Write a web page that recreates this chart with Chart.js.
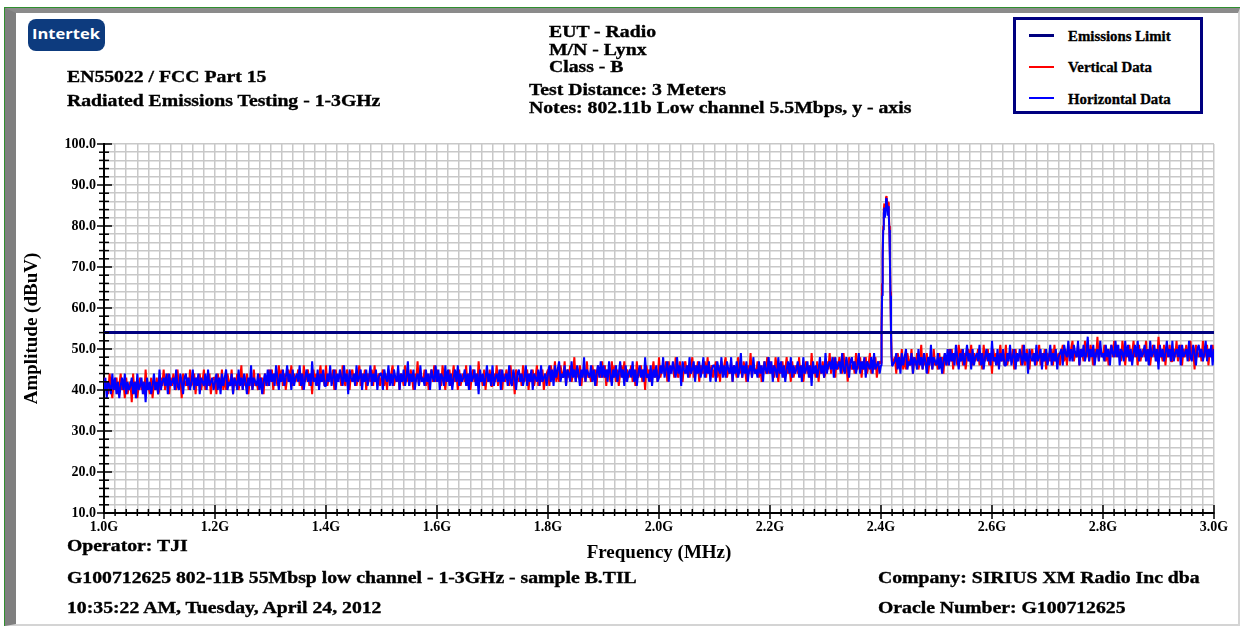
<!DOCTYPE html>
<html>
<head>
<meta charset="utf-8">
<script src="https://cdn.jsdelivr.net/npm/chart.js@4.4.1/dist/chart.umd.min.js"></script>
<style>
    html, body { margin: 0; padding: 0; background: #fff; }
    #page { position: relative; width: 1240px; height: 626px; overflow: hidden; background: #fff; }
    #frame { position: absolute; left: 4px; top: 7px; right: 0; bottom: 0; border-left: 1.5px solid #2f8f2f; border-top: 1.5px solid #2f8f2f; }
    #bevel { position: absolute; left: 0; top: 0; right: 0; bottom: 0; border-left: 11px solid #7f7f7f; border-top: 5px solid #8b8b8b; border-right: 2px solid #d4d4d4; border-bottom: 2px solid #d4d4d4; }
    #chartBox { position: absolute; left: 0; top: 0; width: 1240px; height: 626px; }
    .t { position: absolute; font-family: "Liberation Serif", "Times New Roman", serif; font-weight: bold; font-size: 17px; line-height: 17px; white-space: nowrap; color: #000; -webkit-text-stroke: 0.35px #000; transform: scaleX(1.16); transform-origin: 0 0; }
    #logo { position: absolute; left: 28px; top: 19px; width: 77px; height: 32px; border-radius: 8px; background: #0d3b7e; }
    #logo span { position: absolute; left: 4px; top: 8px; font-family: "Open Sans", "DejaVu Sans", sans-serif; font-weight: bold; font-size: 14px; line-height: 14px; color: #fff; transform: scaleX(1.18); transform-origin: 0 0; }
    #legend { position: absolute; left: 1013px; top: 17px; width: 184px; height: 91px; border: 3px solid #000080; background: #fff; }
    .swatch { position: absolute; left: 13px; width: 25px; }
    .lt { position: absolute; left: 52px; font-family: "Liberation Serif", "Times New Roman", serif; font-weight: bold; font-size: 14px; line-height: 14px; white-space: nowrap; -webkit-text-stroke: 0.3px #000; transform: scaleX(1.06); transform-origin: 0 0; }
</style>
</head>
<body>
<div id="page">
    <div id="frame"><div id="bevel"></div></div>
    <div id="chartBox"><canvas id="emissionsChart"></canvas></div>

    <div id="logo"><span>Intertek</span></div>
    <div class="t" style="left:67px; top:68px;">EN55022 / FCC Part 15</div>
    <div class="t" style="left:67px; top:92px;">Radiated Emissions Testing - 1-3GHz</div>

    <div class="t" style="left:549px; top:23px;">EUT - Radio</div>
    <div class="t" style="left:549px; top:41px;">M/N - Lynx</div>
    <div class="t" style="left:549px; top:58px;">Class - B</div>
    <div class="t" style="left:529px; top:81px;">Test Distance: 3 Meters</div>
    <div class="t" style="left:529px; top:99px;">Notes: 802.11b Low channel 5.5Mbps, y - axis</div>

    <div id="legend">
        <div class="swatch" style="top:14px; height:3px; background:#000080;"></div>
        <div class="lt" style="top:10px;">Emissions Limit</div>
        <div class="swatch" style="top:46px; height:1.5px; background:#ff0000;"></div>
        <div class="lt" style="top:41px;">Vertical Data</div>
        <div class="swatch" style="top:77px; height:1.5px; background:#0000ff;"></div>
        <div class="lt" style="top:73px;">Horizontal Data</div>
    </div>

    <div class="t" style="left:67px; top:537px;">Operator: TJI</div>
    <div class="t" style="left:67px; top:569px;">G100712625 802-11B 55Mbsp low channel - 1-3GHz - sample B.TIL</div>
    <div class="t" style="left:67px; top:599px;">10:35:22 AM, Tuesday, April 24, 2012</div>
    <div class="t" style="left:878px; top:569px;">Company: SIRIUS XM Radio Inc dba</div>
    <div class="t" style="left:878px; top:599px;">Oracle Number: G100712625</div>
</div>

<script>
// sweep layout (MHz): 2.5 MHz steps below and above the carrier, 1 MHz across it
const lowStartMHz = 1000;
const peakStartMHz = 2400;
const highStartMHz = 2425;
const sweepStepMHz = 2.5;
const peakStepMHz = 1;

// Emissions limit (dBuV)
const limitFreqs = [1000, 3000];
const limitLevels = [54, 54];

// Vertical data (dBuV), 1000-2397.5 MHz, one row per 100 MHz
const vertLow = [
    43,40,42,39,44,41,38,42,40,43,39,41,44,40,42,38,43,39,41,42,37,44,39,42,38,41,43,40,42,39,45,40,41,39,43,38,42,40,43,39,
    40,43,41,45,40,42,44,39,43,41,44,42,40,45,41,43,38,44,42,41,43,40,45,41,42,44,39,43,41,44,40,42,45,40,43,41,44,39,42,43,
    43,39,44,42,41,45,40,43,40,44,42,41,45,39,43,41,44,40,42,46,40,43,41,44,39,42,43,40,45,41,42,40,44,41,43,39,44,42,41,45,
    42,45,40,44,43,41,46,42,45,41,44,40,43,45,42,46,41,44,42,43,45,41,44,40,46,42,43,45,41,44,39,45,42,44,41,43,46,42,44,41,
    46,41,43,44,42,45,40,45,42,43,44,41,46,42,41,45,43,40,44,45,42,44,41,43,46,41,44,42,45,40,44,43,42,45,41,46,42,43,44,41,
    43,45,41,44,40,45,42,44,46,41,43,42,45,40,44,43,41,46,42,44,41,45,43,40,44,42,47,41,44,43,42,45,41,44,40,43,45,42,46,42,
    45,42,44,41,46,43,40,44,42,45,41,43,46,42,44,40,45,41,43,44,42,46,41,44,40,43,45,42,44,41,47,42,43,41,45,40,44,42,45,41,
    41,44,42,46,41,43,45,40,44,42,45,43,41,46,42,44,39,45,43,42,44,41,46,42,43,45,40,44,42,45,41,43,46,41,44,42,45,40,43,44,
    45,41,46,44,43,47,42,45,42,46,44,43,47,41,45,43,46,42,44,48,42,45,43,46,41,44,45,42,47,43,44,42,46,43,45,41,46,44,43,47,
    43,46,41,45,44,42,47,43,46,42,45,41,44,46,43,47,42,45,43,44,46,42,45,41,47,43,44,46,42,45,40,46,43,45,42,44,47,43,45,42,
    48,43,45,46,44,47,42,47,44,45,46,43,48,44,43,47,45,42,46,47,44,46,43,45,48,43,46,44,47,42,46,45,44,47,43,48,44,45,46,43,
    45,47,43,46,42,47,44,46,48,43,45,44,47,42,46,45,43,48,44,46,43,47,45,42,46,44,49,43,46,45,44,47,43,46,42,45,47,44,48,44,
    47,44,46,43,48,45,42,46,44,47,43,45,48,44,46,42,47,43,45,46,44,48,43,46,42,45,47,44,46,43,49,44,45,43,47,42,46,44,47,43,
    44,47,45,49,44,46,48,43,47,45,48,46,44,49,45,47,42,48,46,45,47,44,49,45,46,48,43,47,45,48,44,46,49,44,47,45,48,43,46,47
];
// Vertical data across the 2.412 GHz carrier, 2400-2420 MHz
const vertPeak = [46.5, 56, 66, 74, 80, 84, 85.5, 83, 85, 87, 87.3, 86, 84.5, 85.8, 83.5, 80, 73, 64, 55, 49, 46.2];
// Vertical data, 2425-3000 MHz
const vertHigh = [
    48,44,49,47,46,50,45,48,45,49,47,46,50,44,48,46,49,45,47,51,45,48,46,49,44,47,48,45,50,46,47,45,49,46,48,44,49,47,46,50,
    47,50,45,49,48,46,51,47,50,46,49,45,48,50,47,51,46,49,47,48,50,46,49,45,51,47,48,50,46,49,44,50,47,49,46,48,51,47,49,46,
    51,46,48,49,47,50,45,50,47,48,49,46,51,47,46,50,48,45,49,50,47,49,46,48,51,46,49,47,50,45,49,48,47,50,46,51,47,48,49,46,
    49,51,47,50,46,51,48,50,52,47,49,48,51,46,50,49,47,52,48,50,47,51,49,46,50,48,53,47,50,49,48,51,47,50,46,49,51,48,52,48,
    51,48,50,47,52,49,46,50,48,51,47,49,52,48,50,46,51,47,49,50,48,52,47,50,46,49,51,48,50,47,53,48,49,47,51,46,50,48,51,47,
    47,50,48,52,47,49,51,46,50,48,51,49,47,52,48,50,45,51,49,48,50,47,52,48,49,51,46,50,48,51,47
];

// Horizontal data (dBuV), same sweep
const horizLow = [
    40,43,38,42,41,39,44,40,43,39,42,38,41,43,40,44,39,42,40,41,43,39,42,38,44,40,41,43,39,42,37,43,40,42,39,41,44,40,42,39,
    45,40,42,43,41,44,39,44,41,42,43,40,45,41,40,44,42,39,43,44,41,43,40,42,45,40,43,41,44,39,43,42,41,44,40,45,41,42,43,40,
    42,44,40,43,39,44,41,43,45,40,42,41,44,39,43,42,40,45,41,43,40,44,42,39,43,41,46,40,43,42,41,44,40,43,39,42,44,41,45,41,
    45,42,44,41,46,43,40,44,42,45,41,43,46,42,44,40,45,41,43,44,42,46,41,44,40,43,45,42,44,41,47,42,43,41,45,40,44,42,45,41,
    41,44,42,46,41,43,45,40,44,42,45,43,41,46,42,44,39,45,43,42,44,41,46,42,43,45,40,44,42,45,41,43,46,41,44,42,45,40,43,44,
    44,40,45,43,42,46,41,44,41,45,43,42,46,40,44,42,45,41,43,47,41,44,42,45,40,43,44,41,46,42,43,41,45,42,44,40,45,43,42,46,
    42,45,40,44,43,41,46,42,45,41,44,40,43,45,42,46,41,44,42,43,45,41,44,40,46,42,43,45,41,44,39,45,42,44,41,43,46,42,44,41,
    46,41,43,44,42,45,40,45,42,43,44,41,46,42,41,45,43,40,44,45,42,44,41,43,46,41,44,42,45,40,44,43,42,45,41,46,42,43,44,41,
    44,46,42,45,41,46,43,45,47,42,44,43,46,41,45,44,42,47,43,45,42,46,44,41,45,43,48,42,45,44,43,46,42,45,41,44,46,43,47,43,
    46,43,45,42,47,44,41,45,43,46,42,44,47,43,45,41,46,42,44,45,43,47,42,45,41,44,46,43,45,42,48,43,44,42,46,41,45,43,46,42,
    43,46,44,48,43,45,47,42,46,44,47,45,43,48,44,46,41,47,45,44,46,43,48,44,45,47,42,46,44,47,43,45,48,43,46,44,47,42,45,46,
    46,42,47,45,44,48,43,46,43,47,45,44,48,42,46,44,47,43,45,49,43,46,44,47,42,45,46,43,48,44,45,43,47,44,46,42,47,45,44,48,
    44,47,42,46,45,43,48,44,47,43,46,42,45,47,44,48,43,46,44,45,47,43,46,42,48,44,45,47,43,46,41,47,44,46,43,45,48,44,46,43,
    49,44,46,47,45,48,43,48,45,46,47,44,49,45,44,48,46,43,47,48,45,47,44,46,49,44,47,45,48,43,47,46,45,48,44,49,45,46,47,44
];
const horizPeak = [46.0, 54, 63, 72, 79, 83, 84.5, 82, 84, 86.5, 86.8, 85, 82.5, 84.8, 82.8, 79, 72, 63, 54, 48, 45.8];
const horizHigh = [
    47,49,45,48,44,49,46,48,50,45,47,46,49,44,48,47,45,50,46,48,45,49,47,44,48,46,51,45,48,47,46,49,45,48,44,47,49,46,50,46,
    50,47,49,46,51,48,45,49,47,50,46,48,51,47,49,45,50,46,48,49,47,51,46,49,45,48,50,47,49,46,52,47,48,46,50,45,49,47,50,46,
    46,49,47,51,46,48,50,45,49,47,50,48,46,51,47,49,44,50,48,47,49,46,51,47,48,50,45,49,47,50,46,48,51,46,49,47,50,45,48,49,
    50,46,51,49,48,52,47,50,47,51,49,48,52,46,50,48,51,47,49,53,47,50,48,51,46,49,50,47,52,48,49,47,51,48,50,46,51,49,48,52,
    48,51,46,50,49,47,52,48,51,47,50,46,49,51,48,52,47,50,48,49,51,47,50,46,52,48,49,51,47,50,45,51,48,50,47,49,52,48,50,47,
    52,47,49,50,48,51,46,51,48,49,50,47,52,48,47,51,49,46,50,51,48,50,47,49,52,47,50,48,51,46,50
];

// axis ranges and tick steps
const freqMin = 1000, freqMax = 3000, freqMinorStep = 20, freqLabelStep = 200;
const ampMin = 10, ampMax = 100, ampMinorStep = 2, ampLabelStep = 10;

function sweep(startMHz, stepMHz, levels) {
    return levels.map((y, i) => ({ x: startMHz + i * stepMHz, y: y }));
}

const vertPoints = [
    ...sweep(lowStartMHz, sweepStepMHz, vertLow),
    ...sweep(peakStartMHz, peakStepMHz, vertPeak),
    ...sweep(highStartMHz, sweepStepMHz, vertHigh)
];
const horizPoints = [
    ...sweep(lowStartMHz, sweepStepMHz, horizLow),
    ...sweep(peakStartMHz, peakStepMHz, horizPeak),
    ...sweep(highStartMHz, sweepStepMHz, horizHigh)
];
const limitPoints = limitFreqs.map((f, i) => ({ x: f, y: limitLevels[i] }));

const serif = 'Liberation Serif';

// black tick marks that cross the left and bottom axis lines
const crossTicks = {
    id: 'crossTicks',
    afterDraw(chart) {
        const { ctx, chartArea, scales } = chart;
        ctx.save();
        ctx.strokeStyle = '#000';
        ctx.lineWidth = 1.5;
        scales.y.ticks.forEach((t) => {
            const py = scales.y.getPixelForValue(t.value);
            const major = t.value % ampLabelStep === 0;
            ctx.beginPath();
            ctx.moveTo(chartArea.left - (major ? 7 : 5), py);
            ctx.lineTo(chartArea.left + (major ? 8 : 5), py);
            ctx.stroke();
        });
        scales.x.ticks.forEach((t) => {
            const px = scales.x.getPixelForValue(t.value);
            const major = t.value % freqLabelStep === 0;
            ctx.beginPath();
            ctx.moveTo(px, chartArea.bottom - (major ? 8 : 4));
            ctx.lineTo(px, chartArea.bottom + (major ? 6 : 3));
            ctx.stroke();
        });
        ctx.restore();
    }
};

new Chart(document.getElementById('emissionsChart'), {
    type: 'line',
    data: {
        datasets: [
            { label: 'Emissions Limit', data: limitPoints, borderColor: '#000080', borderWidth: 3, order: 0 },
            { label: 'Horizontal Data', data: horizPoints, borderColor: '#0000ff', borderWidth: 2, order: 1 },
            { label: 'Vertical Data', data: vertPoints, borderColor: '#ff0000', borderWidth: 2, order: 2 }
        ]
    },
    options: {
        responsive: true,
        maintainAspectRatio: false,
        animation: false,
        events: [],
        layout: { padding: { left: 21, top: 144, right: 26, bottom: 62 } },
        elements: {
            point: { radius: 0 },
            line: { tension: 0, fill: false, borderJoinStyle: 'bevel' }
        },
        plugins: {
            legend: { display: false },
            tooltip: { enabled: false }
        },
        scales: {
            x: {
                type: 'linear',
                min: freqMin,
                max: freqMax,
                afterFit: (scale) => { scale.height = 51; },
                grid: { color: '#c8c8c8', lineWidth: 1.5, drawTicks: false },
                border: { color: '#000', width: 2 },
                ticks: {
                    stepSize: freqMinorStep,
                    autoSkip: false,
                    maxRotation: 0,
                    minRotation: 0,
                    padding: 6,
                    color: '#000',
                    font: { family: serif, weight: 'bold', size: 14 },
                    callback: (v) => (v % freqLabelStep === 0 ? (v / 1000).toFixed(1) + 'G' : '')
                },
                title: {
                    display: true,
                    text: 'Frequency (MHz)',
                    color: '#000',
                    padding: 0,
                    font: { family: serif, weight: 'bold', size: 19 }
                }
            },
            y: {
                min: ampMin,
                max: ampMax,
                afterFit: (scale) => { scale.width = 83; },
                grid: { color: '#c8c8c8', lineWidth: 1.5, drawTicks: false },
                border: { color: '#000', width: 2 },
                ticks: {
                    stepSize: ampMinorStep,
                    autoSkip: false,
                    padding: 8,
                    color: '#000',
                    font: { family: serif, weight: 'bold', size: 14 },
                    callback: (v) => (v % ampLabelStep === 0 ? v.toFixed(1) : '')
                },
                title: {
                    display: true,
                    text: 'Amplitude (dBuV)',
                    color: '#000',
                    padding: 0,
                    font: { family: serif, weight: 'bold', size: 19 }
                }
            }
        }
    },
    plugins: [crossTicks]
});
</script>
</body>
</html>
